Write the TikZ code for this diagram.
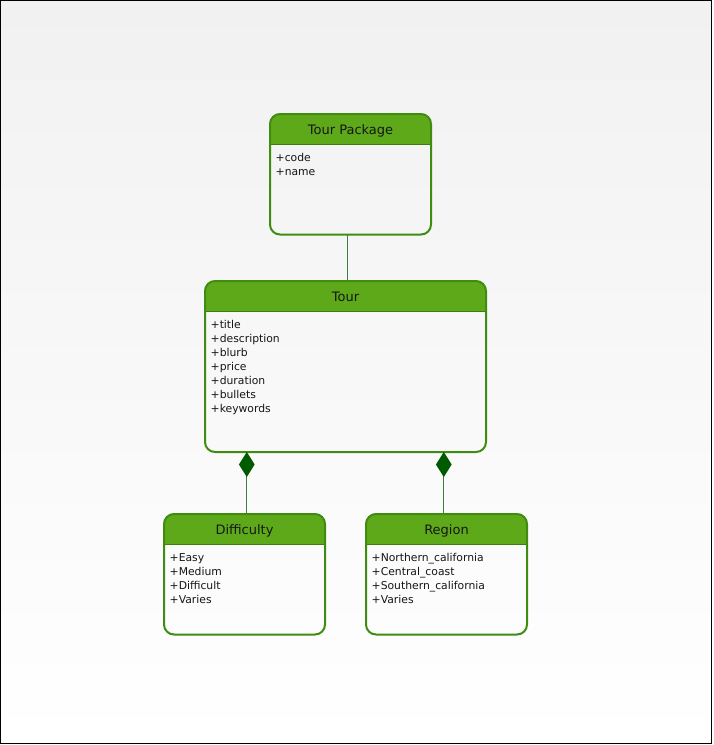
\documentclass[tikz,border=0pt]{standalone}
\usepackage{fontspec}
\setmainfont{DejaVu Sans}
\usetikzlibrary{arrows.meta,calc}

\definecolor{headgreen}{HTML}{5EA91A}
\definecolor{edgegreen}{HTML}{3F8C10}
\definecolor{dividergreen}{HTML}{3A7F0E}
\definecolor{linkgreen}{HTML}{3E7E3E}
\definecolor{diamondgreen}{HTML}{005A00}
\definecolor{bgtop}{HTML}{F1F1F1}
\definecolor{inktext}{HTML}{161616}

\tikzset{
  classshape/.style={inner sep=0pt, outer sep=0pt, anchor=north west},
  classedge/.style={draw=edgegreen, line width=2pt, rounded corners=10pt},
  titletext/.style={font=\fontsize{13}{15}\selectfont, text=inktext, inner sep=0pt, anchor=base},
  attrtext/.style={font=\fontsize{10.8}{14}\selectfont, text=inktext, inner sep=0pt, anchor=base west},
  link/.style={draw=linkgreen, line width=1pt},
  composition/.style={link, {Diamond[length=25pt,width=15.7pt,fill=diamondgreen,color=diamondgreen]}-},
}

% \umlclass{name}{x}{y}{width}{height}{title}{attribute list}
\newcommand\umlclass[7]{%
  \node[classshape, minimum width=#4pt, minimum height=#5pt] (#1) at (#2,#3) {};
  \begin{scope}
    \clip (#1.north west) rectangle ($(#1.north east)+(0,30.5)$);
    \fill[headgreen, rounded corners=10pt] (#1.north west) rectangle (#1.south east);
  \end{scope}
  \draw[dividergreen, line width=1.5pt] ($(#1.north west)+(0,30.5)$) -- ($(#1.north east)+(0,30.5)$);
  \draw[classedge] (#1.north west) rectangle (#1.south east);
  \node[titletext] (#1-title) at ($(#1.north)+(0,20.5)$) {#6};
  \foreach \attr [count=\i] in {#7}
    \node[attrtext] (#1-a\i) at ($(#1.north west)+(5.5,{47.5+14*(\i-1)})$) {\attr};
}

\begin{document}
\begin{tikzpicture}[x=1pt, y=-1pt]
  \useasboundingbox (0,0) rectangle (713,745);
  % page background and frame
  \shade[top color=bgtop, bottom color=white] (0,0) rectangle (712,744);
  \draw[black, line width=1.4pt] (0.7,0.7) rectangle (711.2,743.2);

  % classes
  \umlclass{tp}{270}{114}{161}{120.5}{Tour Package}{+code,+name}
  \umlclass{tour}{205}{281}{281}{171}{Tour}{+title,+description,+blurb,+price,+duration,+bullets,+keywords}
  \umlclass{diff}{164}{514}{161}{120.5}{Difficulty}{+Easy,+Medium,+Difficult,+Varies}
  \umlclass{region}{366}{514}{161}{120.5}{Region}{+Northern\_california,+Central\_coast,+Southern\_california,+Varies}

  % associations
  \coordinate (tp-x) at (347.7,0);
  \coordinate (diff-x) at (246.8,0);
  \coordinate (region-x) at (443.8,0);
  \draw[link] (tp.south -| tp-x) -- (tour.north -| tp-x);
  \draw[composition] (tour.south -| diff-x) -- (diff.north -| diff-x);
  \draw[composition] (tour.south -| region-x) -- (region.north -| region-x);
\end{tikzpicture}
\end{document}
